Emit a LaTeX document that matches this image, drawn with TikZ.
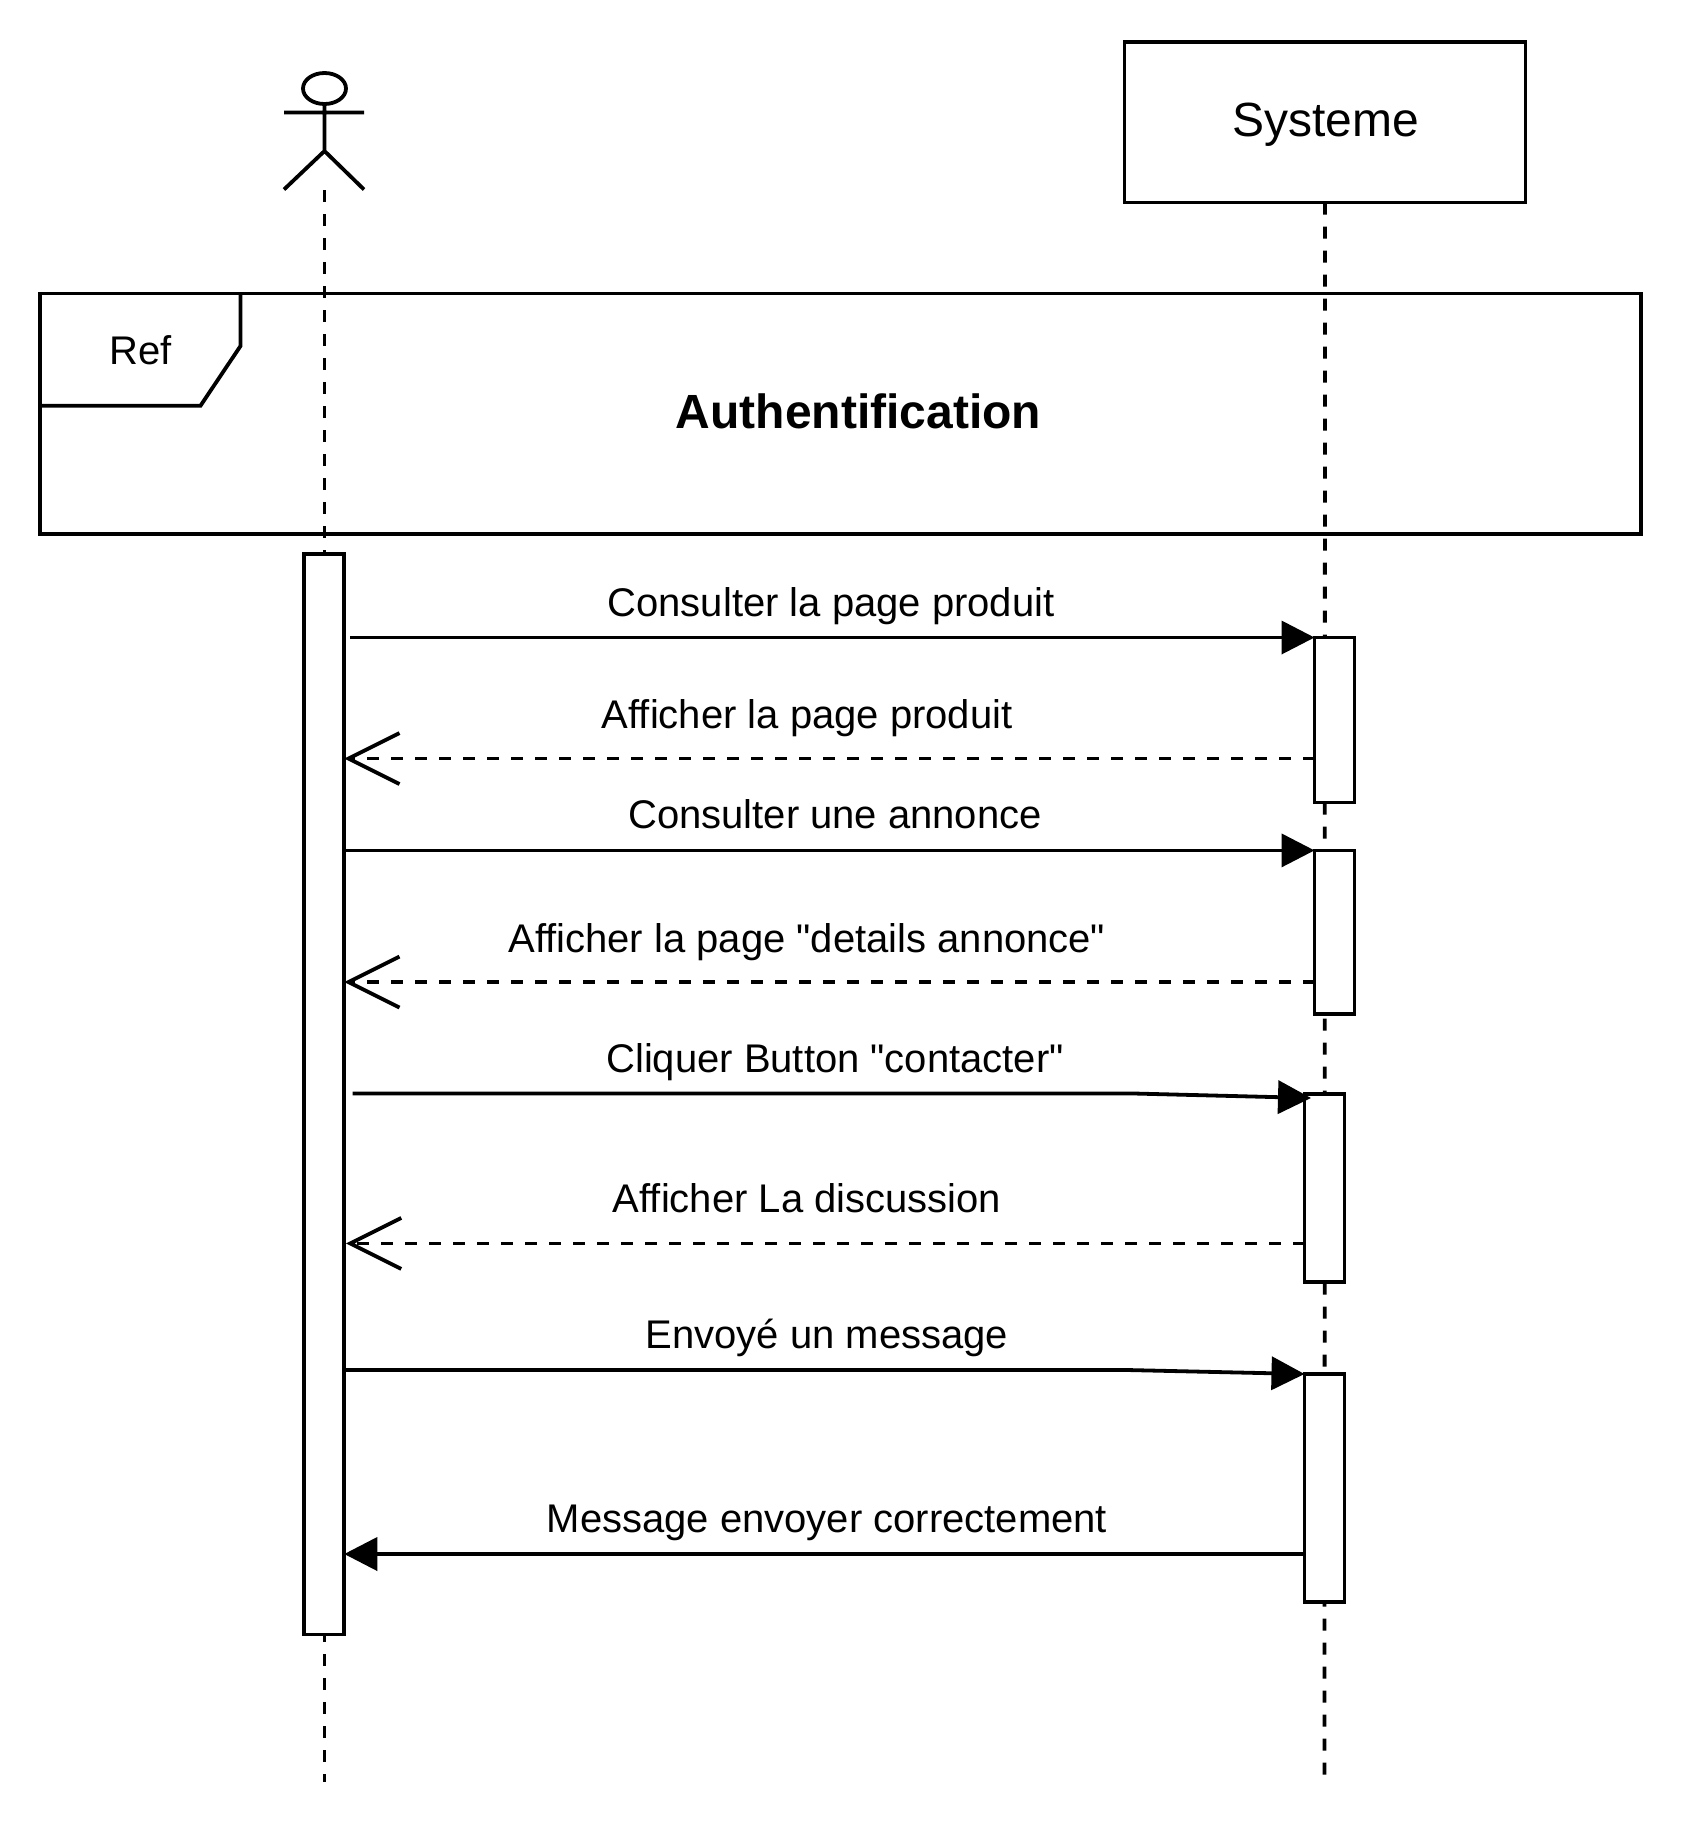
\documentclass[tikz,border=0pt]{standalone}
\usepackage{fontspec}
\newfontfamily\plainsans{Liberation Sans}
\usetikzlibrary{arrows.meta,shapes.geometric}
\tikzset{
  every node/.style={inner sep=0pt,outer sep=0pt},
  ln/.style={line width=3.8pt,draw=black,line join=miter},
  lifeline/.style={ln,dash pattern=on 12pt off 12pt},
  actbox/.style={ln,fill=white,rectangle,minimum width=40pt},
  lab/.style={font=\plainsans\fontsize{40}{48}\selectfont,anchor=base},
  big/.style={font=\plainsans\fontsize{48}{58}\selectfont,anchor=base},
  bigb/.style={font=\plainsans\fontsize{48}{58}\selectfont\bfseries,anchor=base},
  sync/.style={ln,-{Triangle[length=33pt,width=33pt]}},
  reply/.style={ln,dash pattern=on 12pt off 12pt,-{Straight Barb[length=51pt,width=51pt,line width=3.8pt]}},
}
\begin{document}
\begin{tikzpicture}[x=1pt,y=-1pt]
\useasboundingbox (0,0) rectangle (1684,1824);
% frame
\node[ln,rectangle,minimum width=1601pt,minimum height=240.5pt] (frame) at (840.5,413.75) {};
\draw[ln] (240.5,293.5) -- (240.5,346) -- (200.5,405.7) -- (40,405.7);
\node[lab] (ref) at (141,364.5) {Ref};
\node[bigb] (auth) at (858.5,428) {Authentification};
% participants
\node[ln,rectangle,minimum width=401pt,minimum height=160.5pt] (sys) at (1325,122.25) {};
\node[big] (systxt) at (1325.5,136.5) {Systeme};
\node[ln,ellipse,minimum width=43pt,minimum height=31pt] (head) at (324.5,88.5) {};
\coordinate (hip) at (324.5,151);
\coordinate (armL) at (284,112.5);
\coordinate (armR) at (364,112.5);
\coordinate (legL) at (284,189.5);
\coordinate (legR) at (364,189.5);
\draw[ln] (head.south) -- (hip) (armL) -- (armR) (legL) -- (hip) -- (legR);
% lifelines
\coordinate (actorTop) at (324.5,190);
\coordinate (actorEnd) at (324.5,1782);
\coordinate (sysEnd) at (1324.5,1775);
\draw[lifeline] (actorTop) -- (actorEnd);
\draw[lifeline] (sys.south) -- (sysEnd);
% activations
\node[actbox,minimum height=1080.5pt] (act) at (324.25,1094.25) {};
\node[actbox,minimum height=165pt] (a1) at (1334.5,720) {};
\node[actbox,minimum height=163.6pt] (a2) at (1334.5,932.2) {};
\node[actbox,minimum height=188pt] (a3) at (1324.5,1188) {};
\node[actbox,minimum height=228pt] (a4) at (1324.5,1488) {};
% levels
\coordinate (y2) at (0,758.5);
\coordinate (y3) at (0,850.4);
\coordinate (y4) at (0,982);
\coordinate (y6) at (0,1243.4);
\coordinate (y7) at (0,1370);
\coordinate (y8) at (0,1554);
% messages
\coordinate (m1s) at (350,637.5);
\draw[sync] (m1s) -- (a1.north west);
\draw[reply] (a1.west |- y2) -- (act.east |- y2);
\draw[sync] (act.east |- y3) -- (a2.north west);
\draw[reply] (a2.west |- y4) -- (act.east |- y4);
\coordinate (m5s) at (352.5,1093.5);
\coordinate (m5b) at (1134,1093.5);
\coordinate (m5e) at (1311,1098);
\draw[sync] (m5s) -- (m5b) -- (m5e);
\coordinate (m6e) at (346,1243.4);
\draw[reply] (a3.west |- y6) -- (m6e);
\coordinate (m7b) at (1127,1370);
\draw[sync] (act.east |- y7) -- (m7b) -- (a4.north west);
\draw[sync] (a4.west |- y8) -- (act.east |- y8);
% labels
\node[lab] (l1) at (831,616) {Consulter la page produit};
\node[lab] (l2) at (807.2,728) {Afficher la page produit};
\node[lab] (l3) at (835,828) {Consulter une annonce};
\node[lab] (l4) at (806.8,952) {Afficher la page "details annonce"};
\node[lab] (l5) at (835,1072) {Cliquer Button "contacter"};
\node[lab] (l6) at (807,1212.5) {Afficher La discussion};
\node[lab] (l7) at (827,1348) {Envoyé un message};
\node[lab] (l8) at (827,1532) {Message envoyer correctement};
\end{tikzpicture}
\end{document}
